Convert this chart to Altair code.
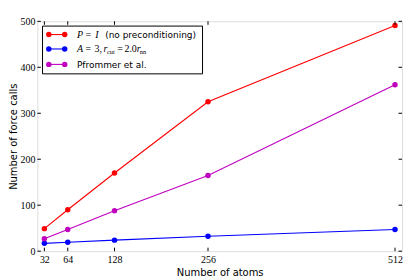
import altair as alt
import pandas as pd

atoms = [32, 64, 128, 256, 512]
series_names = ["P = I (no preconditioning)", "A = 3, r_cut = 2.0 r_nn", "Pfrommer et al."]
red_calls = [49, 90, 170, 325, 491]
blue_calls = [17, 19.5, 24, 32.5, 47]
magenta_calls = [27, 47, 88, 164.5, 362]
colors = ["#ff0000", "#0000ff", "#bf00bf"]
y_ticks = [0, 100, 200, 300, 400, 500]

W, H = 366.5, 231.0
TL = 3.5

rows = []
for name, vals in zip(series_names, [red_calls, blue_calls, magenta_calls]):
    for a, v in zip(atoms, vals):
        rows.append({"series": name, "atoms": a, "calls": v})
df = pd.DataFrame(rows)

xscale = alt.Scale(domain=[22.4, 521.6], nice=False, zero=False)
yscale = alt.Scale(domain=[0, 500], nice=False)
cscale = alt.Scale(domain=series_names, range=colors)

base = alt.Chart(df).encode(
    x=alt.X("atoms:Q", scale=xscale,
            axis=alt.Axis(values=atoms, title="Number of atoms", tickSize=0, domain=False, grid=False,
                          labelFont="Liberation Serif", labelFontSize=10, labelColor="black",
                          labelPadding=3, titleFont="DejaVu Sans", titleFontSize=10,
                          titleFontWeight="normal", titleColor="black", titlePadding=3)),
    y=alt.Y("calls:Q", scale=yscale,
            axis=alt.Axis(values=y_ticks, title="Number of force calls", tickSize=0, domain=False,
                          grid=False, labelFont="Liberation Serif", labelFontSize=10,
                          labelColor="black", labelPadding=2.5, titleFont="DejaVu Sans",
                          titleFontSize=10, titleFontWeight="normal", titleColor="black",
                          titlePadding=1)),
    color=alt.Color("series:N", scale=cscale, legend=None),
    detail="series:N",
)
lines = base.mark_line(strokeWidth=1.1)
pts = base.mark_circle(size=30, opacity=1)

xt = pd.DataFrame({"atoms": atoms})
yt = pd.DataFrame({"calls": y_ticks})
tick_style = dict(color="black", strokeWidth=1)
bt = alt.Chart(xt).mark_rule(**tick_style).encode(x="atoms:Q", y=alt.value(H), y2=alt.value(H - TL))
tt = alt.Chart(xt).mark_rule(**tick_style).encode(x="atoms:Q", y=alt.value(0), y2=alt.value(TL))
lt = alt.Chart(yt).mark_rule(**tick_style).encode(y="calls:Q", x=alt.value(0), x2=alt.value(TL))
rt = alt.Chart(yt).mark_rule(**tick_style).encode(y="calls:Q", x=alt.value(W), x2=alt.value(W - TL))

one = pd.DataFrame({"k": [0]})
leg_layers = [
    alt.Chart(one).mark_rect(fill="white", stroke="black", strokeWidth=1).encode(
        x=alt.value(5.2), x2=alt.value(166), y=alt.value(4.8), y2=alt.value(52.8))
]
row_y = [13.3, 27.8, 43.3]
for yy, col in zip(row_y, colors):
    leg_layers.append(alt.Chart(one).mark_rule(color=col, strokeWidth=1.1).encode(
        x=alt.value(11.5), x2=alt.value(27.5), y=alt.value(yy)))
    for xx in (11.5, 27.5):
        leg_layers.append(alt.Chart(one).mark_circle(color=col, size=30, opacity=1).encode(
            x=alt.value(xx), y=alt.value(yy)))

TX = 39.8
FS = 10
def seg(txt, x, y, font="Liberation Serif", style="normal", size=FS):
    return alt.Chart(one).mark_text(text=txt, align="left", baseline="alphabetic", font=font,
                                    fontStyle=style, fontSize=size, color="black").encode(
        x=alt.value(x), y=alt.value(y))

b1, b2, b3 = row_y[0] + 3.5, row_y[1] + 3.5, row_y[2] + 3.5
leg_layers += [
    seg("P", TX, b1, style="italic"),
    seg("=", TX + 8.7, b1),
    seg("I", TX + 18.4, b1, style="italic"),
    seg("(no preconditioning)", TX + 28.4, b1, font="DejaVu Sans", size=9),
    seg("A", TX, b2, style="italic"),
    seg("=", TX + 8.7, b2),
    seg("3,", TX + 17.7, b2),
    seg("r", TX + 26.7, b2, style="italic"),
    seg("cut", TX + 30.2, b2 + 2, size=6.5),
    seg("=", TX + 40.4, b2),
    seg("2.0", TX + 47.7, b2),
    seg("r", TX + 60.2, b2, style="italic"),
    seg("nn", TX + 63.2, b2 + 2, size=6.5),
    seg("Pfrommer et al.", TX, b3, font="DejaVu Sans", size=9),
]

chart = alt.layer(lines, pts, bt, tt, lt, rt, *leg_layers).properties(
    width=W, height=H,
    autosize=alt.AutoSizeParams(type="none"),
    padding={"left": 29.5, "top": 12.7, "right": 5, "bottom": 30},
).configure_view(stroke="black", strokeWidth=1).configure(background="white")

chart.save("out.html", embed_options={"renderer": "svg", "actions": False})
